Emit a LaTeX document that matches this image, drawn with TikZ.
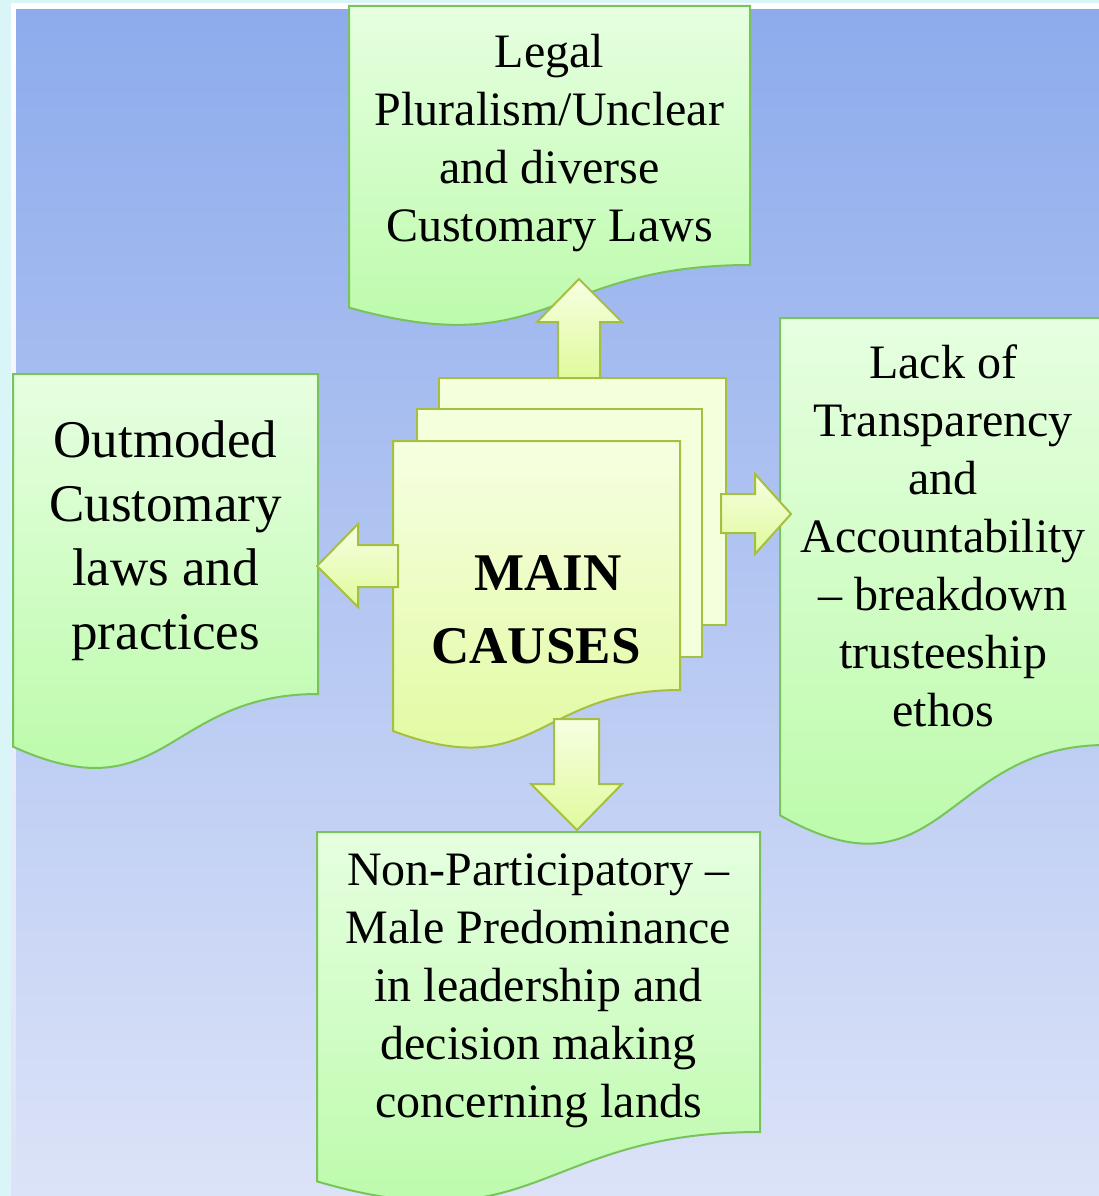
\documentclass[tikz,border=0pt]{standalone}
\usepackage{fontspec}
\setmainfont{Liberation Serif}
\usetikzlibrary{calc}
\pgfdeclarelayer{backdrop}
\pgfdeclarelayer{shapes}
\pgfsetlayers{backdrop,shapes,main}
\definecolor{outerbg}{HTML}{DAF5F8}
\definecolor{bluetop}{HTML}{8DABEC}
\definecolor{bluebot}{HTML}{DCE3F8}
\definecolor{greentop}{HTML}{E6FFE0}
\definecolor{greenbot}{HTML}{B8FAA6}
\definecolor{greenline}{HTML}{78C45A}
\definecolor{oliveline}{HTML}{A5C040}
\definecolor{paletop}{HTML}{F6FFE2}
\definecolor{palebot}{HTML}{E0FA9C}
\definecolor{pagefill}{HTML}{F4FFDC}
% #1 node, #2 style, #3 upward offset of the shape relative to the node (pt)
\newcommand\docwave[3]{%
  \path[#2] let \p1=($(#1.north west)+(0pt,#3pt)$), \p2=($(#1.south east)+(0pt,#3pt)$) in
    (\x1,\y1) -- (\x2,\y1) -- (\x2,\y2)
    .. controls ({(\x1+\x2)/2},\y2) and ({(\x1+\x2)/2},{\y2-0.381*(\y1-\y2)}) ..
    (\x1,{\y2-0.1646*(\y1-\y2)}) -- cycle;}
\tikzset{
  causebox/.style={draw=none, inner sep=0pt, outer sep=0pt, align=center, text=black,
    font=\fontsize{48}{58}\selectfont},
  greendoc/.style={draw=greenline, line width=2pt, top color=greentop, bottom color=greenbot},
  yellowdoc/.style={draw=oliveline, line width=2pt, top color=paletop, bottom color=palebot},
  pagesheet/.style={draw=oliveline, line width=2pt, fill=pagefill},
  blockarrow/.style={draw=oliveline, line width=2pt, top color=paletop, bottom color=palebot},
  titletext/.style={inner sep=0pt, outer sep=0pt, text=black, font=\fontsize{53}{64}\selectfont\bfseries}
}
\begin{document}
\begin{tikzpicture}[x=1pt, y=-1pt]
\useasboundingbox (0,0) rectangle (1099,1196);
\clip (0,0) rectangle (1099,1196);
\begin{pgfonlayer}{backdrop}
  \fill[outerbg] (0,0) rectangle (1099,1196);
  \shade[top color=white, bottom color=bluebot] (11,4) rectangle (1099,1196);
  \shade[top color=bluetop, bottom color=bluebot] (16,10) rectangle (1099,1196);
\end{pgfonlayer}

\node[causebox, minimum width=401, minimum height=259] (legal) at (549.5,143.5)
  {Legal\\Pluralism/Unclear\\and diverse\\Customary Laws};
\node[causebox, font=\fontsize{53}{64}\selectfont, minimum width=305, minimum height=320] (outmoded) at (165.5,541)
  {Outmoded\\Customary\\laws and\\practices};
\node[causebox, minimum width=326, minimum height=427] (lack) at (943,535.5)
  {Lack of\\Transparency\\and\\Accountability\\– breakdown\\trusteeship\\ethos};
\node[causebox, minimum width=443, minimum height=300] (nonpart) at (538.5,991)
  {Non-Participatory –\\Male Predominance\\in leadership and\\decision making\\concerning lands};
\node[causebox, minimum width=287, minimum height=249] (causes) at (536.5,565.5) {};
\node[titletext] (mainA) at (548,572.5) {MAIN};
\node[titletext] (mainB) at (536,646.5) {CAUSES};

\begin{pgfonlayer}{shapes}
  \docwave{legal}{greendoc}{8}
  \docwave{outmoded}{greendoc}{7}
  \docwave{lack}{greendoc}{4}
  \docwave{nonpart}{greendoc}{9}
  \draw[pagesheet] (439,378) rectangle (726,625);
  \draw[pagesheet] (417,409) rectangle (702,657);
  \docwave{causes}{yellowdoc}{0}
\end{pgfonlayer}

% block arrows
\draw[blockarrow] (558,378) -- (558,322) -- (537,322) -- (579,279) -- (622,322) -- (600,322) -- (600,378) -- cycle;
\draw[blockarrow] (398,545) -- (358,545) -- (358,524) -- (317,566) -- (358,607) -- (358,587) -- (398,587) -- cycle;
\draw[blockarrow] (721,494) -- (755,494) -- (755,474) -- (791,514) -- (755,554) -- (755,533) -- (721,533) -- cycle;
\draw[blockarrow] (554,719) -- (599,719) -- (599,784) -- (622,784) -- (577,830) -- (531,784) -- (554,784) -- cycle;
\end{tikzpicture}
\end{document}
